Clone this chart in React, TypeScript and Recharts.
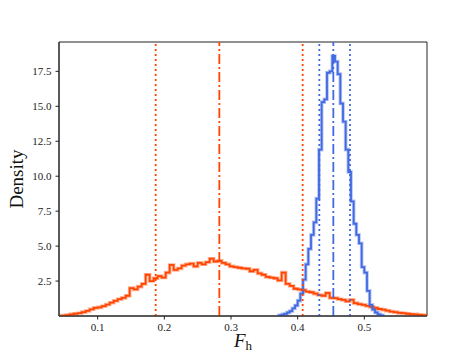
import React from 'react';
import { LineChart, Line, XAxis, YAxis, ReferenceLine, ReferenceArea } from 'recharts';

// Orange histogram (density), bins of equal width starting at orangeStart
const orangeStart = 0.046;
const orangeBinWidth = 0.006;
const orangeDensity = [
  0.03, 0.06, 0.12, 0.16, 0.2, 0.28, 0.36, 0.48, 0.58, 0.62,
  0.7, 0.82, 0.95, 1.08, 1.2, 1.3, 1.45, 2.0, 1.9, 2.1,
  2.3, 2.95, 2.5, 2.7, 2.85, 2.75, 3.1, 3.65, 3.3, 3.4,
  3.6, 3.7, 3.75, 3.55, 3.8, 3.7, 3.85, 4.1, 3.9, 3.95,
  3.8, 3.7, 3.55, 3.5, 3.45, 3.4, 3.38, 3.2, 3.3, 3.05,
  2.95, 2.8, 2.75, 2.7, 2.55, 3.1, 2.3, 2.15, 1.95, 1.9,
  1.85, 1.75, 1.7, 1.6, 1.5, 1.45, 1.65, 1.3, 1.28, 1.2,
  1.15, 1.05, 1.15, 0.92, 0.85, 0.8, 0.72, 0.65, 0.58, 0.5,
  0.45, 0.38, 0.32, 0.28, 0.22, 0.2, 0.16, 0.13, 0.12, 0.08,
  0.06,
];

// Blue histogram (density)
const blueStart = 0.372;
const blueBinWidth = 0.004;
const blueDensity = [
  0.05, 0.1, 0.15, 0.25, 0.35, 0.55, 0.75, 1.1, 1.6, 2.6,
  3.7, 4.8, 5.8, 6.7, 8.4, 11.9, 15.3, 15.5, 17.4, 17.5,
  18.6, 18.2, 17.3, 15.2, 13.9, 11.9, 10.3, 8.2, 6.6, 5.8,
  5.2, 3.5, 3.1, 1.8, 0.8, 0.45, 0.25, 0.12, 0.05,
];

// Vertical markers
const orangeMarkers = { low: 0.187, mid: 0.2825, high: 0.4075 };
const blueMarkers = { low: 0.4325, mid: 0.4535, high: 0.4785 };

const xTicks = [0.1, 0.2, 0.3, 0.4, 0.5];
const yTicks = [2.5, 5.0, 7.5, 10.0, 12.5, 15.0, 17.5];
const xDomain: [number, number] = [0.042, 0.594];
const yDomain: [number, number] = [0, 19.6];

const ORANGE = '#ff4500';
const BLUE = '#4169e1';
const FONT = '"Liberation Serif", "DejaVu Serif", serif';

function stepData(start: number, width: number, values: number[]) {
  const pts: { x: number; y: number }[] = [{ x: start, y: 0 }];
  values.forEach((v, i) => pts.push({ x: start + i * width, y: v }));
  pts.push({ x: start + values.length * width, y: 0 });
  return pts;
}

const orangeData = stepData(orangeStart, orangeBinWidth, orangeDensity);
const blueData = stepData(blueStart, blueBinWidth, blueDensity);

const tickStyle = { fontFamily: FONT, fontSize: 11, fill: '#222' };

export default function App() {
  return (
    <div style={{ position: 'absolute', left: 0, top: 0 }}>
      <LineChart
        width={474}
        height={354}
        margin={{ top: 42, right: 47, bottom: 0, left: 0 }}
      >
        <XAxis
          type="number"
          dataKey="x"
          domain={xDomain}
          allowDataOverflow
          ticks={xTicks}
          tickFormatter={(v: number) => v.toFixed(1)}
          tick={tickStyle}
          tickSize={3.5}
          tickMargin={4}
          height={38}
          stroke="#222"
          label={{
            content: () => (
              <text x={243} y={347} textAnchor="middle" fontFamily={FONT} fill="#111">
                <tspan fontStyle="italic" fontSize={19}>F</tspan>
                <tspan fontSize={13} dy={3}>h</tspan>
              </text>
            ),
          }}
        />
        <YAxis
          type="number"
          domain={yDomain}
          allowDataOverflow
          ticks={yTicks}
          tickFormatter={(v: number) => v.toFixed(1)}
          tick={tickStyle}
          tickSize={3.5}
          tickMargin={4}
          width={59}
          stroke="#222"
          label={{
            content: () => (
              <text
                transform="translate(23,179) rotate(-90)"
                textAnchor="middle"
                fontFamily={FONT}
                fontSize={19}
                fill="#111"
              >
                Density
              </text>
            ),
          }}
        />
        <ReferenceArea
          x1={xDomain[0]}
          x2={xDomain[1]}
          y1={yDomain[0]}
          y2={yDomain[1]}
          fill="none"
          fillOpacity={0}
          stroke="#222"
          strokeWidth={1}
          ifOverflow="visible"
        />
        <Line
          data={orangeData}
          dataKey="y"
          type="stepAfter"
          stroke={ORANGE}
          strokeOpacity={0.4}
          strokeWidth={3.6}
          dot={false}
          isAnimationActive={false}
        />
        <Line
          data={orangeData}
          dataKey="y"
          type="stepAfter"
          stroke={ORANGE}
          strokeWidth={1.8}
          dot={false}
          isAnimationActive={false}
        />
        <Line
          data={blueData}
          dataKey="y"
          type="stepAfter"
          stroke={BLUE}
          strokeOpacity={0.4}
          strokeWidth={3.6}
          dot={false}
          isAnimationActive={false}
        />
        <Line
          data={blueData}
          dataKey="y"
          type="stepAfter"
          stroke={BLUE}
          strokeWidth={1.8}
          dot={false}
          isAnimationActive={false}
        />
        <ReferenceLine x={orangeMarkers.low} stroke={ORANGE} strokeWidth={1.8} strokeDasharray="2 3" />
        <ReferenceLine x={orangeMarkers.mid} stroke={ORANGE} strokeWidth={1.8} strokeDasharray="10 3 2 3" />
        <ReferenceLine x={orangeMarkers.high} stroke={ORANGE} strokeWidth={1.8} strokeDasharray="2 3" />
        <ReferenceLine x={blueMarkers.low} stroke={BLUE} strokeWidth={1.8} strokeDasharray="2 3" />
        <ReferenceLine x={blueMarkers.mid} stroke={BLUE} strokeWidth={1.8} strokeDasharray="10 3 2 3" />
        <ReferenceLine x={blueMarkers.high} stroke={BLUE} strokeWidth={1.8} strokeDasharray="2 3" />
      </LineChart>
    </div>
  );
}
